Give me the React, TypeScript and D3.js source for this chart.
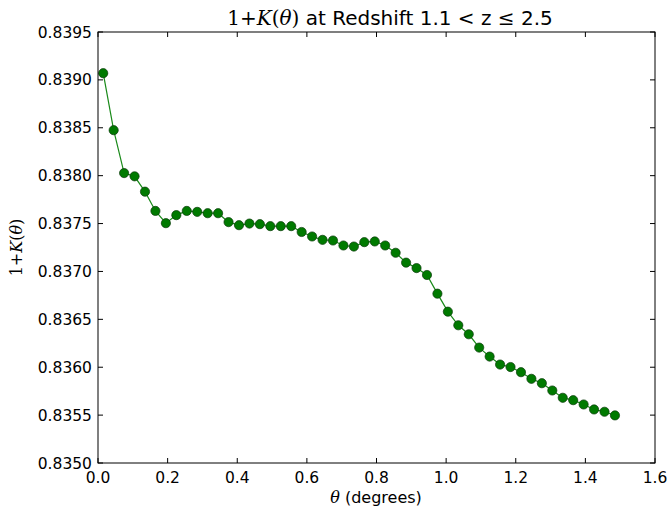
import React from "react";
import * as d3 from "d3";

const thetaValues: number[] = Array.from({ length: 50 }, (_, i) => +(0.015 + 0.03 * i).toFixed(3));
const kValues: number[] = [
  0.83907, 0.838475, 0.838027, 0.837993, 0.837833, 0.837632, 0.837504, 0.837588, 0.837632, 0.837622,
  0.837608, 0.837608, 0.837515, 0.837483, 0.8375, 0.837494, 0.837473, 0.837473, 0.837473, 0.837412,
  0.837365, 0.83733, 0.837323, 0.837271, 0.83726, 0.837306, 0.837313, 0.837271, 0.837195, 0.837092,
  0.837035, 0.836963, 0.836768, 0.83658, 0.836438, 0.836344, 0.836205, 0.836111, 0.836028, 0.836002,
  0.835948, 0.835879, 0.835833, 0.835757, 0.835681, 0.835656, 0.835611, 0.835559, 0.835535, 0.835497,
];
const xTicks: number[] = [0, 0.2, 0.4, 0.6, 0.8, 1.0, 1.2, 1.4, 1.6];
const yTicks: number[] = [0.835, 0.8355, 0.836, 0.8365, 0.837, 0.8375, 0.838, 0.8385, 0.839, 0.8395];

const W = 668, H = 510;
const L = 98, R = 655, T = 32, B = 463;

export default function App() {
  const x = d3.scaleLinear().domain([0, 1.6]).range([L, R]);
  const y = d3.scaleLinear().domain([0.835, 0.8395]).range([B, T]);
  const pts = thetaValues.map((t, i) => [t, kValues[i]] as [number, number]);
  const line = d3.line<[number, number]>().x(d => x(d[0])).y(d => y(d[1]))(pts) || "";
  const font = "'DejaVu Sans', sans-serif";
  const serif = "'DejaVu Serif', 'Liberation Serif', serif";
  const tl = 5;
  return (
    <svg width={W} height={H} style={{ position: "absolute", left: 0, top: 0, background: "#fff" }}>
      <rect x={0} y={0} width={W} height={H} fill="#fff" />
      <path d={line} fill="none" stroke="#1a8a1a" strokeWidth={1.2} />
      {pts.map((d, i) => (
        <circle key={i} cx={x(d[0])} cy={y(d[1])} r={4.6} fill="#007a00" stroke="#0a3a0a" strokeWidth={0.7} />
      ))}
      <rect x={L} y={T} width={R - L} height={B - T} fill="none" stroke="#000" strokeWidth={1} />
      {xTicks.map((t, i) => (
        <g key={"x" + i}>
          <line x1={x(t)} x2={x(t)} y1={B} y2={B - tl} stroke="#000" />
          <line x1={x(t)} x2={x(t)} y1={T} y2={T + tl} stroke="#000" />
          <text x={x(t)} y={483} textAnchor="middle" fontFamily={font} fontSize={15.5} fill="#000">{t.toFixed(1)}</text>
        </g>
      ))}
      {yTicks.map((t, i) => (
        <g key={"y" + i}>
          <line x1={L} x2={L + tl} y1={y(t)} y2={y(t)} stroke="#000" />
          <line x1={R} x2={R - tl} y1={y(t)} y2={y(t)} stroke="#000" />
          <text x={92} y={y(t) + 5.5} textAnchor="end" fontFamily={font} fontSize={15.5} fill="#000">{t.toFixed(4)}</text>
        </g>
      ))}
      <text x={390} y={25} textAnchor="middle" fontFamily={font} fontSize={20} fill="#000">
        <tspan fontFamily={serif}>1+</tspan>
        <tspan fontFamily={serif} fontStyle="italic">K</tspan>
        <tspan fontFamily={serif}>(</tspan>
        <tspan fontFamily={serif} fontStyle="italic">θ</tspan>
        <tspan fontFamily={serif}>)</tspan>
        <tspan> at Redshift 1.1 &lt; z </tspan>
        <tspan fontFamily={serif}>≤</tspan>
        <tspan> 2.5</tspan>
      </text>
      <text x={376} y={503} textAnchor="middle" fontFamily={font} fontSize={16} fill="#000">
        <tspan fontFamily={serif} fontStyle="italic">θ</tspan>
        <tspan> (degrees)</tspan>
      </text>
      <text transform={`translate(22, ${(T + B) / 2}) rotate(-90)`} textAnchor="middle" fontFamily={serif} fontSize={16} fill="#000">
        <tspan>1+</tspan>
        <tspan fontStyle="italic">K</tspan>
        <tspan>(</tspan>
        <tspan fontStyle="italic">θ</tspan>
        <tspan>)</tspan>
      </text>
    </svg>
  );
}
